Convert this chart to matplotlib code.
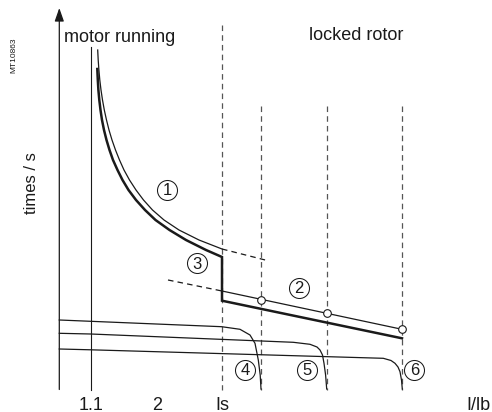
import matplotlib
matplotlib.use('Agg')
import matplotlib.pyplot as plt

plt.rcParams['font.family'] = ['Liberation Sans', 'DejaVu Sans']
plt.rcParams['lines.scale_dashes'] = False

# Diagram coordinates (x to the right, y downward, schematic units)
# Curve 1 (thin, motor running thermal curve)
c1_x = [97.7, 98.2, 98.9, 99.8, 101, 102.5, 104.3, 106.5, 109, 112, 115.5, 119.5,
        124, 129.5, 136, 143.5, 152.5, 164, 179, 199, 222]
c1_y = [50, 60, 70, 80, 90, 100, 110, 120, 130, 140, 150, 160,
        170, 180, 190, 200, 210, 220, 230, 240, 249]
# Curve 1 dashed extension
c1e_x = [222, 268]
c1e_y = [249, 260.7]

# Thick resulting curve (3)
c3_x = [97.3, 97.8, 98.4, 99.3, 100.5, 102, 104, 106.5, 109.5, 113, 117.5, 122.5,
        128.5, 136, 145, 155.5, 169.5, 186, 206, 222, 222, 402]
c3_y = [69, 80, 90, 100, 110, 120, 130, 140, 150, 160, 170, 180,
        190, 200, 210, 220, 230, 240, 250, 257, 300.7, 338.3]

# Curve 2 (locked rotor) with markers
c2_x = [222, 402]
c2_y = [291, 329.3]
c2_mx = [261.3, 326.7, 402]
c2_my = [299.7, 313, 329.3]
c2e_x = [168, 222]
c2e_y = [280, 291]

# Curves 4, 5, 6
c4_x = [59.3, 90.7, 221.7, 240, 250, 255, 258.3, 260.2, 261]
c4_y = [320, 321.3, 326.7, 329.3, 335, 343.3, 360, 375, 389]
c5_x = [59.3, 90.7, 293.3, 310, 317, 320, 322.5, 324, 325.6, 326.7]
c5_y = [333.3, 334, 342.3, 344.3, 347, 350, 355, 363.3, 375, 389]
c6_x = [59.3, 90.7, 383.3, 391, 395, 398, 400, 401.5, 402.3]
c6_y = [349, 349.8, 358.3, 360.5, 363.3, 367, 371.7, 380, 389]

# Vertical dashed lines
vd_x = [222, 261.3, 326.7, 402]
vd_top = [25, 106, 106, 106]

# Tick labels
tick_x = [90.7, 156.7, 222.3, 478]
tick_labels = ['1.1', '2', 'Is', 'I/lb']

# Circled numbers
num_labels = ['1', '2', '3', '4', '5', '6']
num_x = [167, 299.3, 197, 245, 306.7, 414.3]
num_y = [189.5, 287.7, 263.3, 370, 370, 370]

fig = plt.figure(figsize=(4.92, 4.12), dpi=100)
ax = fig.add_axes([0, 0, 1, 1])
ax.set_xlim(0, 492)
ax.set_ylim(412, 0)
ax.axis('off')

k = '#1a1a1a'
# axes with arrows
ax.annotate('', xy=(59.3, 8), xytext=(59.3, 389.5),
            arrowprops=dict(arrowstyle='-|>,head_length=0.8,head_width=0.28',
                            mutation_scale=10, lw=0.9, color=k,
                            shrinkA=0, shrinkB=0))
ax.annotate('', xy=(497, 389.5), xytext=(59.3, 389.5),
            arrowprops=dict(arrowstyle='-|>,head_length=0.8,head_width=0.28',
                            mutation_scale=10, lw=0.9, color=k,
                            shrinkA=0, shrinkB=0))
# vertical line at 1.1
ax.plot([90.7, 90.7], [47, 389.5], color=k, lw=0.8)

# vertical dashed lines
for x, t in zip(vd_x, vd_top):
    ax.plot([x, x], [t, 389.5], color='#555555', lw=0.9, dashes=(4, 3))

# curves
ax.plot(c1_x, c1_y, color=k, lw=0.9)
ax.plot(c1e_x, c1e_y, color=k, lw=0.9, dashes=(4, 3))
ax.plot(c3_x, c3_y, color=k, lw=1.8, solid_joinstyle='miter')
ax.plot(c2e_x, c2e_y, color=k, lw=0.9, dashes=(4, 3))
ax.plot(c2_x, c2_y, color=k, lw=0.9)
ax.plot(c2_mx, c2_my, linestyle='none', marker='o', markersize=5.5,
        markerfacecolor='white', markeredgecolor=k, markeredgewidth=0.8)
ax.plot(c4_x, c4_y, color=k, lw=0.9)
ax.plot(c5_x, c5_y, color=k, lw=0.9)
ax.plot(c6_x, c6_y, color=k, lw=0.9)

# circled numbers
for lab, x, y in zip(num_labels, num_x, num_y):
    ax.plot([x], [y], marker='o', markersize=14.4, markerfacecolor='white',
            markeredgecolor=k, markeredgewidth=0.75, linestyle='none')
    ax.text(x, y + 0.9, lab, ha='center', va='center', fontsize=12, color=k)

# texts
ax.text(64.3, 41.5, 'motor running', ha='left', va='baseline', fontsize=13, color=k)
ax.text(309.3, 40.3, 'locked rotor', ha='left', va='baseline', fontsize=13, color=k)
for x, lab in zip(tick_x, tick_labels):
    ax.text(x, 409.5, lab, ha='center', va='baseline', fontsize=13, color=k)
ax.text(31, 183, 'times / s', rotation=90, ha='center', va='center', fontsize=12, color=k)
ax.text(14, 55.5, 'MT10863', rotation=90, ha='center', va='center', fontsize=6, color=k)

fig.savefig('out.png', dpi=100)
